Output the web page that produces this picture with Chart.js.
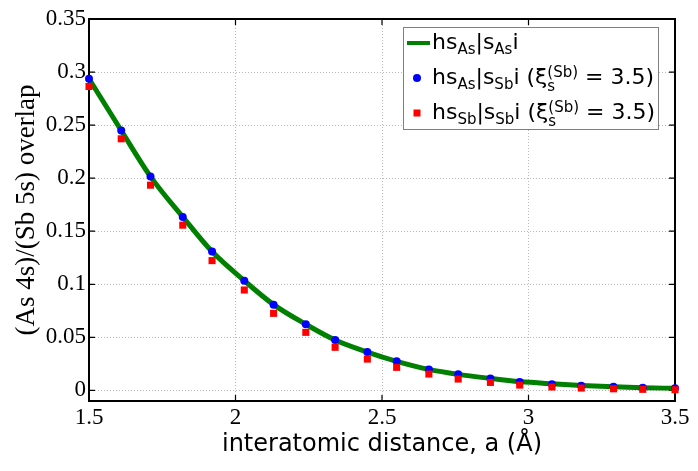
<!DOCTYPE html>
<html>
<head>
<meta charset="utf-8">
<script src="https://cdn.jsdelivr.net/npm/chart.js@4/dist/chart.umd.min.js"></script>
<style>
  body { margin: 0; background: #fff; }
  #wrap { width: 698px; height: 471px; }
</style>
</head>
<body>
<div id="wrap"><canvas id="grafico" width="698" height="471"></canvas></div>
<script>
// distancias interatomicas (Å)
const distancias = [1.5, 1.61, 1.71, 1.82, 1.92, 2.03, 2.13, 2.24, 2.34, 2.45,
                    2.55, 2.66, 2.76, 2.87, 2.97, 3.08, 3.18, 3.29, 3.39, 3.5]
// <s_As|s_As> curva continua
const curvaAsAs = [0.2937, 0.2449, 0.2015, 0.1635, 0.1308, 0.1034, 0.0808, 0.0623, 0.0475, 0.0361,
                   0.0274, 0.0198, 0.0151, 0.0113, 0.0083, 0.0062, 0.0046, 0.0034, 0.0026, 0.0019]
// <s_As|s_Sb> pontos azuis
const pontosAsSb = [0.2937, 0.2449, 0.2015, 0.1635, 0.1308, 0.1034, 0.0808, 0.0623, 0.0475, 0.0361,
                    0.0274, 0.0198, 0.0151, 0.0113, 0.0080, 0.0058, 0.0043, 0.0034, 0.0025, 0.0019]
// <s_Sb|s_Sb> quadrados vermelhos
const pontosSbSb = [0.2864, 0.2371, 0.1934, 0.1557, 0.1223, 0.0946, 0.0726, 0.0547, 0.0406, 0.0295,
                    0.0217, 0.0154, 0.0107, 0.0075, 0.0050, 0.0032, 0.0022, 0.0015, 0.0010, 0.0006]

const ticksX = [1.5, 2, 2.5, 3, 3.5]
const ticksY = [0, 0.05, 0.1, 0.15, 0.2, 0.25, 0.3, 0.35]

const legendaItens = [
    { tipo: 'linha', partes: ['hs', {sub: 'As'}, '|s', {sub: 'As'}, 'i'] },
    { tipo: 'circulo', partes: ['hs', {sub: 'As'}, '|s', {sub: 'Sb'}, 'i (ξ', {sub: 's', sup: '(Sb)'}, ' = 3.5)'] },
    { tipo: 'quadrado', partes: ['hs', {sub: 'Sb'}, '|s', {sub: 'Sb'}, 'i (ξ', {sub: 's', sup: '(Sb)'}, ' = 3.5)'] }
]

const pares = ys => distancias.map((x, i) => ({x: x, y: ys[i]}))

function escreverRico(ctx, x, y, partes) {
    for (let p of partes) {
        if (typeof p === 'string') {
            ctx.font = '22px "DejaVu Sans"'
            ctx.fillText(p, x, y)
            x += ctx.measureText(p).width
        } else {
            ctx.font = '15px "DejaVu Sans"'
            let w = ctx.measureText(p.sub).width
            if (p.sup) {
                ctx.fillText(p.sup, x, y - 7)
                ctx.fillText(p.sub, x, y + 7)
                w = Math.max(w, ctx.measureText(p.sup).width)
            } else {
                ctx.fillText(p.sub, x, y + 5)
            }
            x += w
        }
    }
}

// caixa, ticks internos e legenda
const molduraELegenda = {
    id: 'molduraELegenda',
    beforeDatasetsDraw(chart) {
        const {ctx, chartArea: a, scales} = chart
        ctx.save()
        ctx.strokeStyle = '#000'
        ctx.lineWidth = 1.2
        ctx.beginPath()
        for (let v of ticksX) {
            const px = scales.x.getPixelForValue(v)
            ctx.moveTo(px, a.bottom); ctx.lineTo(px, a.bottom - 6)
            ctx.moveTo(px, a.top); ctx.lineTo(px, a.top + 6)
        }
        for (let v of ticksY) {
            const py = scales.y.getPixelForValue(v)
            ctx.moveTo(a.left, py); ctx.lineTo(a.left + 6, py)
            ctx.moveTo(a.right, py); ctx.lineTo(a.right - 6, py)
        }
        ctx.stroke()
        ctx.lineWidth = 2
        ctx.strokeRect(a.left, a.top, a.right - a.left, a.bottom - a.top)
        ctx.restore()
    },
    afterDraw(chart) {
        const ctx = chart.ctx
        ctx.save()
        ctx.fillStyle = '#fff'
        ctx.fillRect(403, 27, 255, 102)
        ctx.strokeStyle = '#808080'
        ctx.lineWidth = 1
        ctx.strokeRect(403.5, 27.5, 255, 102)
        legendaItens.forEach((item, i) => {
            const base = 49 + i * 35
            const cy = base - 6
            if (item.tipo === 'linha') {
                ctx.strokeStyle = '#008000'
                ctx.lineWidth = 4
                ctx.beginPath(); ctx.moveTo(407, cy); ctx.lineTo(430, cy); ctx.stroke()
            } else if (item.tipo === 'circulo') {
                ctx.fillStyle = '#0000ff'
                ctx.beginPath(); ctx.arc(417, cy, 4, 0, Math.PI * 2); ctx.fill()
            } else {
                ctx.fillStyle = '#ff0000'
                ctx.fillRect(413.5, cy - 3.5, 7, 7)
            }
            ctx.fillStyle = '#000'
            ctx.textBaseline = 'alphabetic'
            escreverRico(ctx, 432, base, item.partes)
        })
        ctx.restore()
    }
}

const fonteTicks = { family: '"Liberation Serif", serif', size: 23 }

new Chart(document.getElementById('grafico'), {
    type: 'line',
    data: {
        datasets: [{
            label: 'sAs|sAs',
            data: pares(curvaAsAs),
            borderColor: '#008000',
            borderWidth: 5,
            pointRadius: 0,
            cubicInterpolationMode: 'monotone',
            fill: false,
            order: 3
        }, {
            label: 'sAs|sSb',
            data: pares(pontosAsSb),
            showLine: false,
            pointStyle: 'circle',
            pointRadius: 4,
            backgroundColor: '#0000ff',
            borderColor: '#0000ff',
            borderWidth: 0,
            clip: false,
            order: 2
        }, {
            label: 'sSb|sSb',
            data: pares(pontosSbSb),
            showLine: false,
            pointStyle: 'rect',
            pointRadius: 5,
            backgroundColor: '#ff0000',
            borderColor: '#ff0000',
            borderWidth: 0,
            clip: false,
            order: 1
        }]
    },
    options: {
        responsive: false,
        animation: false,
        layout: {
            padding: { top: 19, right: 23, left: 0, bottom: 0 }
        },
        plugins: {
            legend: { display: false },
            tooltip: { enabled: false }
        },
        scales: {
            x: {
                type: 'linear',
                min: 1.5,
                max: 3.5,
                afterBuildTicks: s => { s.ticks = ticksX.map(v => ({value: v})) },
                afterFit: s => { s.height = 70 },
                ticks: {
                    padding: 3,
                    color: '#000',
                    font: fonteTicks,
                    callback: v => String(v)
                },
                grid: {
                    color: '#b8b8b8',
                    lineWidth: 1,
                    drawTicks: false
                },
                border: { display: false, dash: [1, 2] },
                title: {
                    display: true,
                    text: 'interatomic distance, a (Å)',
                    color: '#000',
                    font: { family: '"DejaVu Sans"', size: 24 },
                    padding: { top: 0, bottom: 12 }
                }
            },
            y: {
                min: -0.01,
                max: 0.35,
                afterBuildTicks: s => { s.ticks = ticksY.map(v => ({value: v})) },
                afterFit: s => { s.width = 89 },
                ticks: {
                    padding: 3,
                    color: '#000',
                    font: fonteTicks,
                    callback: v => String(Math.round(v * 100) / 100)
                },
                grid: {
                    color: '#b8b8b8',
                    lineWidth: 1,
                    drawTicks: false
                },
                border: { display: false, dash: [1, 2] },
                title: {
                    display: true,
                    text: '(As 4s)/(Sb 5s) overlap',
                    color: '#000',
                    font: { family: '"Liberation Serif", serif', size: 27 },
                    padding: { top: 11, bottom: 0 }
                }
            }
        }
    },
    plugins: [molduraELegenda]
})
</script>
</body>
</html>
